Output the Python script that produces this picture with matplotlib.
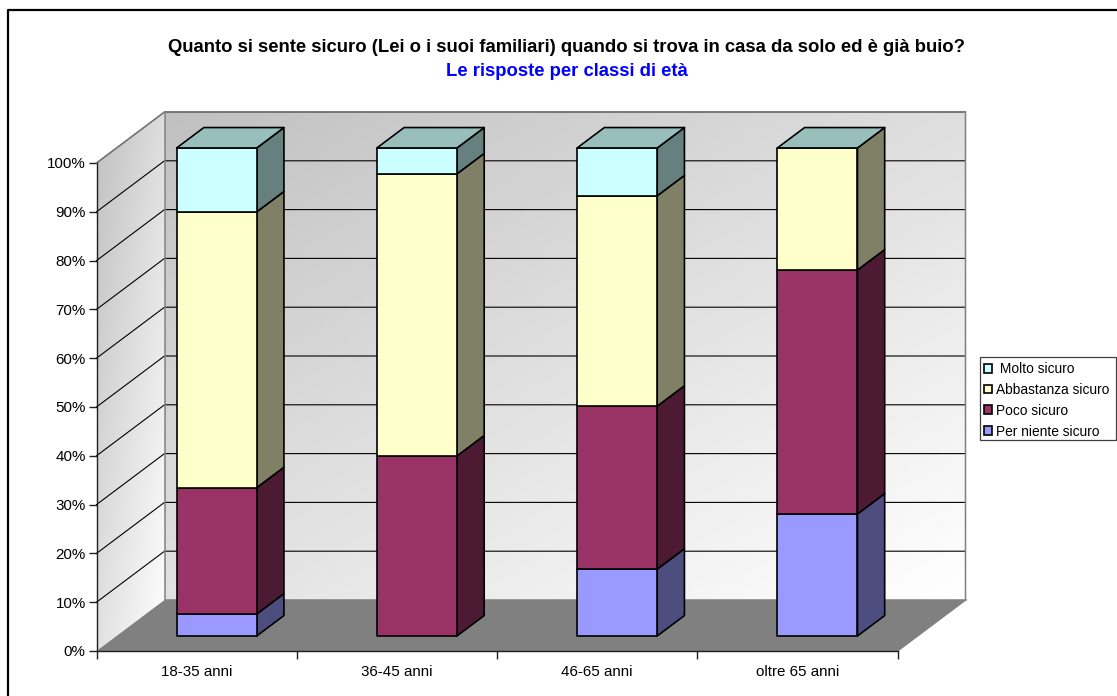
import numpy as np
import matplotlib
matplotlib.use("Agg")
import matplotlib.pyplot as plt
from matplotlib.lines import Line2D
from matplotlib.patches import Patch, Polygon, Rectangle

plt.rcParams["font.family"] = ["Liberation Sans", "DejaVu Sans"]

# Survey answers by age group, in percent
age_groups = ["18-35 anni", "36-45 anni", "46-65 anni", "oltre 65 anni"]
per_niente = [4.5, 0.0, 13.7, 25.0]
poco = [25.9, 36.9, 33.4, 50.0]
abbastanza = [56.5, 57.8, 43.1, 25.0]
molto = [13.1, 5.3, 9.8, 0.0]

series_names = ["Per niente sicuro", "Poco sicuro", "Abbastanza sicuro", "Molto sicuro"]
series_values = [per_niente, poco, abbastanza, molto]
front_colors = ["#9999FF", "#993366", "#FFFFCC", "#CCFFFF"]
side_colors = ["#4D4D80", "#4D1A33", "#808066", "#668080"]
top_color = "#99BFBD"
percent_ticks = list(range(0, 101, 10))

W, H = 1117, 696
fig = plt.figure(figsize=(W / 100, H / 100), dpi=100, facecolor="white")
ax = fig.add_axes([96.5 / W, (H - 651) / H, 801 / W, 488 / H])
ax.set_facecolor("none")

# Oblique projection: depth 0 is the front plane, depth 1 the back wall
DEPTH_X = 68.0 / (801 / 4)
DEPTH_Y = 51.0 / 4.88
BAR_WIDTH = 0.4
BAR_D0, BAR_D1 = 0.295, 0.695


def proj(x, y, d):
    return (x + d * DEPTH_X, y + d * DEPTH_Y)


def gradient_wall(corners, extent):
    """Fill a polygon with the light-from-lower-right wall shading."""
    u, v = np.meshgrid(np.linspace(0, 1, 200), np.linspace(0, 1, 200))
    shade = (192 + 63 * (u + 1.1 * v) / 2.1) / 255.0
    img = ax.imshow(shade, cmap="gray", vmin=0, vmax=1, origin="upper",
                    extent=extent, aspect="auto", zorder=1, interpolation="bilinear")
    clip = Polygon(corners, closed=True, transform=ax.transData, facecolor="none",
                   edgecolor="none", clip_on=False)
    ax.add_patch(clip)
    img.set_clip_box(fig.bbox)
    img.set_clip_path(clip)


n = len(age_groups)
back_corners = [proj(0, 0, 1), proj(n, 0, 1), proj(n, 100, 1), proj(0, 100, 1)]
left_corners = [proj(0, 0, 0), proj(0, 0, 1), proj(0, 100, 1), proj(0, 100, 0)]
floor_corners = [proj(0, 0, 0), proj(n, 0, 0), proj(n, 0, 1), proj(0, 0, 1)]

gradient_wall(back_corners, (DEPTH_X, n + DEPTH_X, DEPTH_Y, 100 + DEPTH_Y))
gradient_wall(left_corners, (0, DEPTH_X, 0, 100 + DEPTH_Y))
ax.add_patch(Polygon(floor_corners, closed=True, facecolor="#808080", edgecolor="none",
                     zorder=2, clip_on=False))

# Gridlines run across the side wall and along the back wall
for p in percent_ticks[1:]:
    a, b, c = proj(0, p, 0), proj(0, p, 1), proj(n, p, 1)
    ax.add_line(Line2D([a[0], b[0], c[0]], [a[1], b[1], c[1]], color="#000000", lw=0.8,
                       zorder=3, clip_on=False, snap=False))

# Wall outlines
outline = [proj(0, 100, 0), proj(0, 100, 1), proj(n, 100, 1), proj(n, 0, 1), proj(n, 0, 0)]
ax.add_line(Line2D(*zip(*outline), color="#808080", lw=1.1, zorder=3, clip_on=False))
inner = [proj(0, 100, 1), proj(0, 0, 1), proj(n, 0, 1)]
ax.add_line(Line2D(*zip(*inner), color="#808080", lw=1.1, zorder=3, clip_on=False))

# Stacked 3D columns
edge = dict(edgecolor="#000000", linewidth=1.2, joinstyle="round", zorder=4, clip_on=False)
for i in range(n):
    x0 = i + 0.5 - BAR_WIDTH / 2
    x1 = i + 0.5 + BAR_WIDTH / 2
    base = 0.0
    for vals, fc, sc in zip(series_values, front_colors, side_colors):
        v = vals[i]
        if v > 0:
            top = base + v
            side = [proj(x1, base, BAR_D0), proj(x1, base, BAR_D1),
                    proj(x1, top, BAR_D1), proj(x1, top, BAR_D0)]
            front = [proj(x0, base, BAR_D0), proj(x1, base, BAR_D0),
                     proj(x1, top, BAR_D0), proj(x0, top, BAR_D0)]
            ax.add_patch(Polygon(side, closed=True, facecolor=sc, **edge))
            ax.add_patch(Polygon(front, closed=True, facecolor=fc, **edge))
            base = top
    cap = [proj(x0, base, BAR_D0), proj(x1, base, BAR_D0),
           proj(x1, base, BAR_D1), proj(x0, base, BAR_D1)]
    ax.add_patch(Polygon(cap, closed=True, facecolor=top_color, **edge))

# Axes and ticks
ax.set_xlim(0, n)
ax.set_ylim(0, 100)
for s in ("top", "right"):
    ax.spines[s].set_visible(False)
for s in ("left", "bottom"):
    ax.spines[s].set_linewidth(1.0)
    ax.spines[s].set_color("#202020")
    ax.spines[s].set_zorder(3)
ax.set_yticks(percent_ticks)
ax.set_yticklabels([f"{p}%" for p in percent_ticks], fontsize=10.9)
ax.set_xticks(range(n + 1))
ax.set_xticklabels([])
ax.set_xticks([i + 0.5 for i in range(n)], minor=True)
ax.set_xticklabels(age_groups, minor=True, fontsize=10.9)
ax.tick_params(axis="both", which="major", length=5.8, width=1.0, color="#202020", pad=2)
ax.tick_params(axis="x", which="minor", length=0, pad=10)

# Title lines
fig.text(567 / W, 1 - 47.5 / H, "Quanto si sente sicuro (Lei o i suoi familiari) quando si trova in casa da solo ed è già buio?",
         ha="center", va="center", fontsize=13.3, fontweight="bold", color="black")
fig.text(567 / W, 1 - 71.5 / H, "Le risposte per classi di età",
         ha="center", va="center", fontsize=13.3, fontweight="bold", color="#0000FF")

# Legend, top series first, on its own framed box
fig.add_artist(Rectangle((979.5 / W, 1 - 440 / H), 136.5 / W, 83 / H, transform=fig.transFigure,
                         facecolor="white", edgecolor="#404040", linewidth=0.9))
handles = [Patch(facecolor=c, edgecolor="black", linewidth=1.2) for c in reversed(front_colors)]
labels = [" Molto sicuro"] + list(reversed(series_names))[1:]
leg = fig.legend(handles, labels, loc="upper left", bbox_to_anchor=(983.5 / W, 1 - 362 / H),
                 borderaxespad=0, borderpad=0, handlelength=0.62, handleheight=0.62,
                 handletextpad=0.32, labelspacing=0.5, fontsize=9.9, frameon=False)
leg.set_zorder(5)

# Chart area border: only its left and top sides fall inside the canvas
fig.add_artist(Line2D([7.5 / W, 7.5 / W, 1], [0, 1 - 10 / H, 1 - 10 / H],
                      transform=fig.transFigure, color="black", lw=1.6))

fig.savefig("out.png", dpi=100, facecolor="white")
